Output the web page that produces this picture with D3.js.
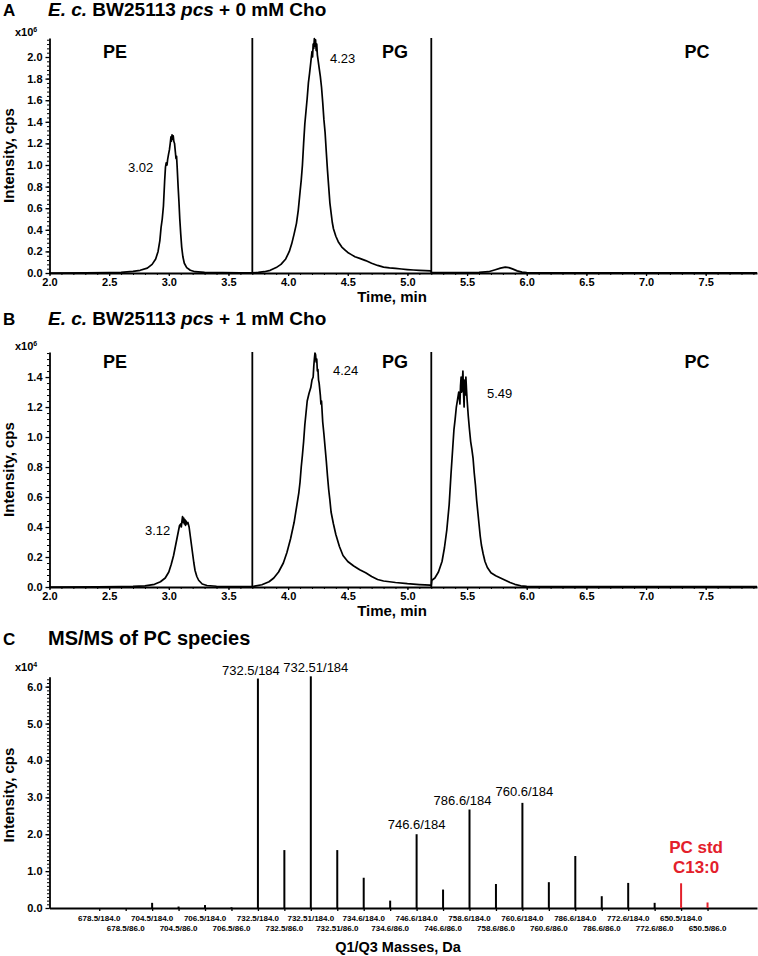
<!DOCTYPE html>
<html><head><meta charset="utf-8">
<script src="https://cdn.jsdelivr.net/npm/d3@7"></script>
<style>
html,body{margin:0;padding:0;background:#fff;}
svg{display:block;font-family:"Liberation Sans",Arial,sans-serif;}
</style></head>
<body><svg id="c" width="758" height="956"></svg>
<script>
// ---------- DATA ----------
const timeA = [2.00,2.30,2.50,2.60,2.70,2.76,2.82,2.86,2.89,2.91,2.925,2.935,2.945,2.955,2.965,2.972,2.978,2.985,2.99,2.998,3.005,3.012,3.018,3.022,3.027,3.032,3.037,3.042,3.048,3.055,3.06,3.065,3.07,3.078,3.085,3.092,3.10,3.108,3.118,3.13,3.15,3.18,3.22,3.30,3.45,3.60,3.70,3.75,3.80,3.85,3.90,3.94,3.98,4.01,4.03,4.05,4.07,4.085,4.10,4.11,4.12,4.13,4.14,4.15,4.16,4.17,4.18,4.19,4.20,4.205,4.21,4.215,4.22,4.225,4.23,4.235,4.24,4.245,4.25,4.26,4.27,4.28,4.29,4.30,4.31,4.32,4.33,4.34,4.35,4.36,4.37,4.38,4.40,4.42,4.45,4.48,4.50,4.53,4.56,4.60,4.65,4.70,4.75,4.80,4.85,4.90,4.95,5.00,5.05,5.10,5.15,5.195,5.205,5.30,5.45,5.60,5.68,5.73,5.78,5.82,5.85,5.88,5.92,5.96,6.00,6.30,7.00,7.93];
const intensityA = [0.000,0.001,0.003,0.006,0.015,0.025,0.045,0.08,0.13,0.20,0.30,0.42,0.50,0.62,0.85,0.98,1.02,1.00,1.05,1.10,1.14,1.20,1.26,1.22,1.28,1.24,1.27,1.22,1.20,1.12,1.06,1.08,0.98,0.80,0.66,0.50,0.36,0.24,0.15,0.09,0.05,0.025,0.012,0.006,0.003,0.002,0.001,0.005,0.012,0.025,0.05,0.08,0.13,0.20,0.27,0.36,0.46,0.58,0.75,0.86,1.00,1.20,1.38,1.50,1.62,1.76,1.85,1.95,2.05,2.00,2.12,2.08,2.17,2.10,2.16,2.06,2.12,2.02,1.98,1.90,1.82,1.72,1.58,1.42,1.30,1.12,0.95,0.80,0.65,0.56,0.47,0.41,0.34,0.29,0.24,0.21,0.19,0.17,0.15,0.135,0.115,0.09,0.07,0.055,0.047,0.042,0.037,0.032,0.028,0.025,0.022,0.02,0.003,0.003,0.004,0.005,0.012,0.028,0.045,0.055,0.05,0.038,0.02,0.008,0.003,0.002,0.002,0.002];

const timeB = [2.00,2.40,2.60,2.70,2.80,2.88,2.93,2.97,3.00,3.02,3.04,3.055,3.07,3.08,3.09,3.10,3.105,3.11,3.115,3.12,3.125,3.13,3.135,3.14,3.145,3.15,3.16,3.17,3.18,3.19,3.20,3.21,3.22,3.235,3.25,3.28,3.32,3.40,3.55,3.70,3.72,3.78,3.84,3.88,3.92,3.96,3.99,4.02,4.05,4.07,4.09,4.10,4.11,4.12,4.13,4.14,4.15,4.16,4.175,4.19,4.20,4.21,4.215,4.22,4.225,4.23,4.235,4.24,4.245,4.25,4.255,4.26,4.27,4.275,4.28,4.29,4.30,4.31,4.32,4.33,4.34,4.35,4.36,4.38,4.40,4.43,4.46,4.50,4.55,4.60,4.65,4.70,4.75,4.80,4.90,5.00,5.10,5.19,5.20,5.205,5.23,5.26,5.29,5.31,5.33,5.35,5.365,5.38,5.39,5.40,5.41,5.42,5.43,5.44,5.445,5.45,5.455,5.46,5.465,5.47,5.475,5.48,5.485,5.49,5.495,5.50,5.51,5.52,5.53,5.54,5.55,5.56,5.57,5.58,5.59,5.60,5.61,5.62,5.635,5.65,5.67,5.70,5.74,5.78,5.82,5.86,5.90,5.95,6.00,6.50,7.93];
const intensityB = [0.000,0.001,0.002,0.004,0.008,0.018,0.035,0.06,0.10,0.15,0.21,0.27,0.33,0.37,0.41,0.42,0.40,0.44,0.47,0.43,0.46,0.42,0.45,0.41,0.44,0.42,0.43,0.40,0.34,0.28,0.22,0.16,0.11,0.07,0.045,0.02,0.01,0.005,0.003,0.002,0.006,0.015,0.035,0.06,0.10,0.16,0.23,0.32,0.43,0.53,0.63,0.70,0.80,0.88,0.97,1.08,1.16,1.24,1.29,1.33,1.38,1.40,1.47,1.52,1.56,1.55,1.50,1.52,1.44,1.45,1.38,1.36,1.28,1.22,1.24,1.10,1.02,0.93,0.84,0.74,0.65,0.58,0.50,0.42,0.35,0.27,0.21,0.17,0.14,0.115,0.095,0.07,0.05,0.04,0.03,0.022,0.016,0.012,0.01,0.045,0.06,0.10,0.17,0.26,0.38,0.55,0.75,0.93,1.05,1.12,1.20,1.25,1.30,1.22,1.34,1.40,1.30,1.36,1.44,1.30,1.20,1.38,1.28,1.40,1.32,1.25,1.14,1.05,0.97,0.92,0.86,0.76,0.68,0.58,0.50,0.42,0.34,0.28,0.22,0.17,0.13,0.095,0.075,0.06,0.045,0.03,0.018,0.008,0.004,0.002,0.002];

const dividers = [3.7, 5.2];
const regionLabels = ["PE", "PG", "PC"];
const timeTicks = [2.0,2.5,3.0,3.5,4.0,4.5,5.0,5.5,6.0,6.5,7.0,7.5];
const yTicksA = [0,0.2,0.4,0.6,0.8,1.0,1.2,1.4,1.6,1.8,2.0];
const yTicksB = [0,0.2,0.4,0.6,0.8,1.0,1.2,1.4];
const yTicksC = [0,1,2,3,4,5,6];

const msCategories = ["678.5/184.0","678.5/86.0","704.5/184.0","704.5/86.0","706.5/184.0","706.5/86.0","732.5/184.0","732.5/86.0","732.51/184.0","732.51/86.0","734.6/184.0","734.6/86.0","746.6/184.0","746.6/86.0","758.6/184.0","758.6/86.0","760.6/184.0","760.6/86.0","786.6/184.0","786.6/86.0","772.6/184.0","772.6/86.0","650.5/184.0","650.5/86.0"];
const msIntensity = [0,0,0.14,0.04,0.08,0.02,6.22,1.57,6.28,1.57,0.82,0.20,2.00,0.50,2.67,0.65,2.85,0.70,1.41,0.32,0.68,0.14,0.67,0.15];
const msIsStandard = [0,0,0,0,0,0,0,0,0,0,0,0,0,0,0,0,0,0,0,0,0,0,1,1];
const msPeakLabels = ["732.5/184","732.51/184","746.6/184","786.6/184","760.6/184"];
const msPeakLabelIndex = [6,8,12,14,16];

// ---------- DRAW ----------
const svg = d3.select("#c");
const RED = "#e3202b";
const AX = 49.5, RIGHT = 757;

function chromPanel(opts){
  const g = svg.append("g");
  const x = d3.scaleLinear().domain([2.0, 7.93]).range([AX, RIGHT]);
  const y = d3.scaleLinear().domain([0, opts.yMax]).range([opts.y0, opts.yTop]);

  g.append("text").attr("x",3).attr("y",opts.titleY).attr("font-size",17).attr("font-weight","bold").text(opts.letter);
  const t = g.append("text").attr("x",48).attr("y",opts.titleY).attr("font-size",19).attr("font-weight","bold");
  t.append("tspan").attr("font-style","italic").text("E. c.");
  t.append("tspan").text(" BW25113 ");
  t.append("tspan").attr("font-style","italic").text("pcs");
  t.append("tspan").text(" + " + opts.conc + " mM Cho");

  const m = g.append("text").attr("x",15).attr("y",opts.yTop-2).attr("font-size",11).attr("font-weight","bold");
  m.append("tspan").text("x10");
  m.append("tspan").attr("font-size",7).attr("dy",-4).text("6");

  const yMinor = d3.range(0, opts.yMax, 0.04);
  g.append("g").attr("transform",`translate(${AX},0)`)
    .call(d3.axisLeft(y).tickValues(yMinor).tickSize(2.5).tickFormat(""))
    .call(s=>s.select(".domain").remove());
  g.append("g").attr("transform",`translate(0,${opts.y0})`)
    .call(d3.axisBottom(x).tickValues(d3.range(2.0, 7.93, 0.1)).tickSize(2).tickFormat(""))
    .call(s=>s.select(".domain").remove());

  const ya = g.append("g").attr("transform",`translate(${AX},0)`)
    .call(d3.axisLeft(y).tickValues(opts.yTicks).tickFormat(d3.format(".1f")).tickSize(4).tickSizeOuter(0).tickPadding(3));
  ya.select(".domain").attr("stroke-width",1.8);
  ya.selectAll("text").attr("font-size",11).attr("font-weight","bold").attr("font-family","Liberation Sans, Arial");
  ya.selectAll("line").attr("stroke-width",1.3);

  const xa = g.append("g").attr("transform",`translate(0,${opts.y0})`)
    .call(d3.axisBottom(x).tickValues(timeTicks).tickFormat(d3.format(".1f")).tickSize(3).tickSizeOuter(0).tickPadding(2));
  xa.select(".domain").attr("stroke-width",1.8);
  xa.selectAll("text").attr("font-size",11).attr("font-weight","bold").attr("font-family","Liberation Sans, Arial");
  xa.selectAll("line").attr("stroke-width",1.3);

  g.append("text").attr("x",392).attr("y",opts.y0+29).attr("text-anchor","middle")
    .attr("font-size",15).attr("font-weight","bold").text("Time, min");
  g.append("text").attr("transform",`translate(14,${(opts.y0+opts.yTop)/2}) rotate(-90)`)
    .attr("text-anchor","middle").attr("font-size",15).attr("font-weight","bold").text("Intensity, cps");

  g.selectAll("line.div").data(dividers).join("line")
    .attr("x1",d=>x(d)).attr("x2",d=>x(d)).attr("y1",opts.yTop).attr("y2",opts.y0)
    .attr("stroke","#000").attr("stroke-width",1.8);

  const rl = opts.regionX;
  g.selectAll("text.rl").data(regionLabels).join("text")
    .attr("x",(d,i)=>rl[i]).attr("y",opts.regionY).attr("text-anchor","middle")
    .attr("font-size",18).attr("font-weight","bold").text(d=>d);

  const pts = opts.times.map((t,i)=>[t, opts.vals[i]]);
  g.append("path").datum(pts)
    .attr("d", d3.line().x(d=>x(d[0])).y(d=>y(d[1])))
    .attr("fill","none").attr("stroke","#000").attr("stroke-width",1.7).attr("stroke-linejoin","round");

  opts.peaks.forEach(p=>{
    g.append("text").attr("x",p[0]).attr("y",p[1]).attr("font-size",13).text(p[2]);
  });
}

chromPanel({letter:"A", conc:"0", titleY:16, yTop:38, y0:273, yMax:2.176, yTicks:yTicksA,
  times:timeA, vals:intensityA, regionX:[115,395,697], regionY:58,
  peaks:[[128,172,"3.02"],[330,63,"4.23"]]});
chromPanel({letter:"B", conc:"1", titleY:325, yTop:352, y0:587, yMax:1.567, yTicks:yTicksB,
  times:timeB, vals:intensityB, regionX:[115,395,697], regionY:368,
  peaks:[[145,535,"3.12"],[333,375,"4.24"],[487,398,"5.49"]]});

// ---------- Panel C ----------
(function(){
  const g = svg.append("g");
  const x = d3.scaleLinear().domain([-1.88, 24.87]).range([AX, RIGHT]);
  const y = d3.scaleLinear().domain([0, 6.27]).range([908, 676.7]);

  g.append("text").attr("x",3).attr("y",645).attr("font-size",17).attr("font-weight","bold").text("C");
  g.append("text").attr("x",48).attr("y",645).attr("font-size",20).attr("font-weight","bold").text("MS/MS of PC species");
  const m = g.append("text").attr("x",15).attr("y",671).attr("font-size",11).attr("font-weight","bold");
  m.append("tspan").text("x10");
  m.append("tspan").attr("font-size",7).attr("dy",-4).text("4");

  g.append("g").attr("transform",`translate(${AX},0)`)
    .call(d3.axisLeft(y).tickValues(d3.range(0, 6.27, 0.1)).tickSize(2.5).tickFormat(""))
    .call(s=>s.select(".domain").remove());
  const ya = g.append("g").attr("transform",`translate(${AX},0)`)
    .call(d3.axisLeft(y).tickValues(yTicksC).tickFormat(d3.format(".1f")).tickSize(4).tickSizeOuter(0).tickPadding(3));
  ya.select(".domain").attr("stroke-width",1.8);
  ya.selectAll("text").attr("font-size",11).attr("font-weight","bold").attr("font-family","Liberation Sans, Arial");
  ya.selectAll("line").attr("stroke-width",1.3);

  const idx = msCategories.map((d,i)=>i);
  const xa = g.append("g").attr("transform","translate(0,908)")
    .call(d3.axisBottom(x).tickValues(idx).tickSize(3).tickSizeOuter(0).tickFormat(""));
  xa.select(".domain").attr("stroke-width",1.8);
  xa.selectAll("line").attr("stroke-width",1.3);
  g.selectAll("text.cat").data(msCategories).join("text")
    .attr("x",(d,i)=>x(i)).attr("y",(d,i)=> i%2===0 ? 921 : 931)
    .attr("text-anchor","middle").attr("font-size",8).attr("font-weight","bold").text(d=>d);

  g.append("text").attr("x",398).attr("y",952).attr("text-anchor","middle")
    .attr("font-size",14.5).attr("font-weight","bold").text("Q1/Q3 Masses, Da");
  g.append("text").attr("transform","translate(14,795) rotate(-90)")
    .attr("text-anchor","middle").attr("font-size",15).attr("font-weight","bold").text("Intensity, cps");

  g.selectAll("line.stick").data(msIntensity).join("line")
    .attr("x1",(d,i)=>x(i)).attr("x2",(d,i)=>x(i))
    .attr("y1",y(0)).attr("y2",d=>y(d))
    .attr("stroke",(d,i)=>msIsStandard[i] ? RED : "#000").attr("stroke-width",2);

  const labelOffsets = [[-7,675],[5,672],[0,829],[-7,805],[2,796]];
  msPeakLabels.forEach((lab,k)=>{
    const i = msPeakLabelIndex[k];
    g.append("text").attr("x",x(i)+labelOffsets[k][0]).attr("y",labelOffsets[k][1])
      .attr("text-anchor","middle").attr("font-size",13).text(lab);
  });
  g.append("text").attr("x",x(22)+15).attr("y",853).attr("text-anchor","middle")
    .attr("font-size",17).attr("font-weight","bold").attr("fill",RED).text("PC std");
  g.append("text").attr("x",x(22)+15).attr("y",873).attr("text-anchor","middle")
    .attr("font-size",17).attr("font-weight","bold").attr("fill",RED).text("C13:0");
})();
</script></body></html>
